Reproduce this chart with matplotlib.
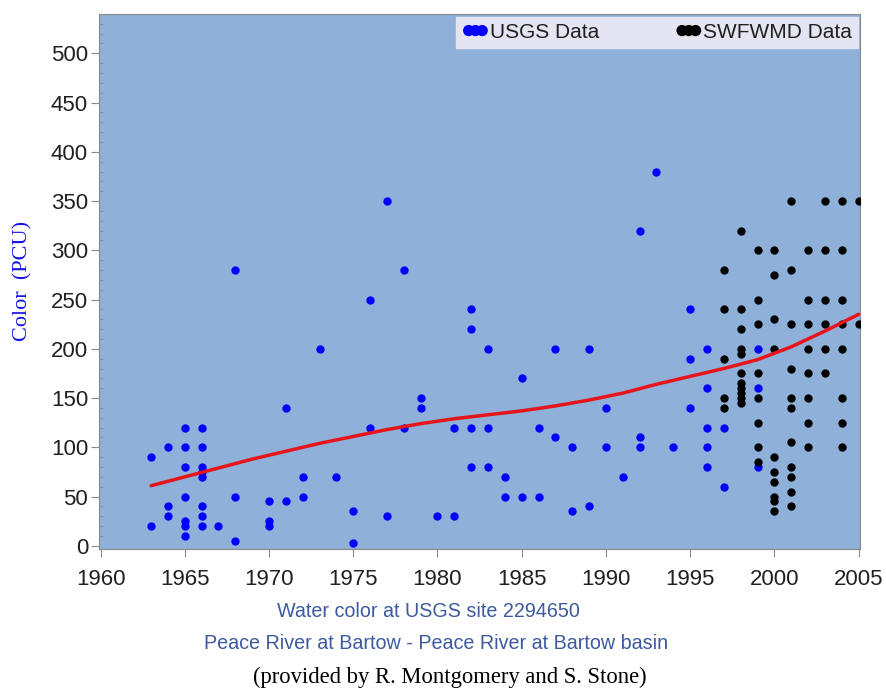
import numpy as np
import matplotlib
matplotlib.use("Agg")
import matplotlib.pyplot as plt
from matplotlib.ticker import MultipleLocator

# USGS samples (year, color in PCU)
usgs_year = [1963, 1963,
             1964, 1964, 1964,
             1965, 1965, 1965, 1965, 1965, 1965, 1965,
             1966, 1966, 1966, 1966, 1966, 1966, 1966, 1966,
             1967,
             1968, 1968, 1968,
             1970, 1970, 1970,
             1971, 1971,
             1972, 1972,
             1973, 1974,
             1975, 1975,
             1976, 1976,
             1977, 1977,
             1978, 1978,
             1979, 1979,
             1980,
             1981, 1981,
             1982, 1982, 1982, 1982,
             1983, 1983, 1983,
             1984, 1984,
             1985, 1985,
             1986, 1986,
             1987, 1987,
             1988, 1988,
             1989, 1989,
             1990, 1990,
             1991,
             1992, 1992, 1992,
             1993, 1994,
             1995, 1995, 1995,
             1996, 1996, 1996, 1996, 1996,
             1997, 1997,
             1999, 1999, 1999]
usgs_color = [90, 20,
              100, 40, 30,
              120, 100, 80, 50, 25, 20, 10,
              120, 100, 80, 75, 70, 40, 30, 20,
              20,
              280, 50, 5,
              45, 25, 20,
              140, 45,
              70, 50,
              200, 70,
              35, 3,
              250, 120,
              350, 30,
              280, 120,
              150, 140,
              30,
              120, 30,
              240, 220, 120, 80,
              200, 120, 80,
              70, 50,
              170, 50,
              120, 50,
              200, 110,
              100, 35,
              200, 40,
              140, 100,
              70,
              320, 110, 100,
              380, 100,
              240, 190, 140,
              200, 160, 120, 100, 80,
              120, 60,
              200, 160, 80]

# SWFWMD samples
swf_year = [1997] * 5 + [1998] * 11 + [1999] * 8 + [2000] * 10 + [2001] * 11 \
    + [2002] * 8 + [2003] * 6 + [2004] * 8 + [2005] * 2
swf_color = [280, 240, 190, 150, 140,
             320, 240, 220, 200, 195, 175, 165, 160, 155, 150, 145,
             300, 250, 225, 175, 150, 125, 100, 85,
             300, 275, 230, 200, 90, 75, 65, 50, 45, 35,
             350, 280, 225, 180, 150, 140, 105, 80, 70, 55, 40,
             300, 250, 225, 200, 175, 150, 125, 100,
             350, 300, 250, 225, 200, 175,
             350, 300, 250, 225, 200, 150, 125, 100,
             350, 225]

# smoothed trend
trend_year = [1963, 1965, 1967, 1969, 1971, 1973, 1975, 1977, 1979, 1981,
              1983, 1985, 1987, 1989, 1991, 1993, 1995, 1997, 1999, 2001,
              2003, 2005]
trend_color = [61, 70, 79, 88, 96, 104, 111, 118, 124, 129,
               133, 137, 142, 148, 155, 164, 172, 180, 189, 202,
               218, 235]

fig = plt.figure(figsize=(8.86, 6.96), dpi=100)
ax = fig.add_axes([0.112, 0.211, 0.859, 0.769])
ax.set_facecolor('#8fb0d8')

ax.scatter(usgs_year, usgs_color, s=36, color='#0000ff', linewidths=0,
           zorder=3, label='USGS Data')
ax.scatter(swf_year, swf_color, s=36, color='black', linewidths=0,
           zorder=4, label='SWFWMD Data')
ax.plot(trend_year, trend_color, color='#e8141c', lw=2.5, zorder=5,
        solid_capstyle='round')

ax.set_xlim(1959.92, 2005.1)
ax.set_ylim(-3.4, 540)
ax.set_xticks(np.arange(1960, 2006, 5))
ax.set_yticks(np.arange(0, 501, 50))
ax.yaxis.set_minor_locator(MultipleLocator(10))

for sp in ax.spines.values():
    sp.set_color('#8a8a8a')
ax.tick_params(axis='both', which='major', direction='out', length=6,
               color='#8a8a8a', labelsize=16, labelcolor='#202020', pad=2)
ax.tick_params(axis='x', which='major', pad=8.5)
ax.tick_params(axis='y', which='minor', direction='in', length=3,
               color='#7a8aa0')
for lab in ax.get_xticklabels() + ax.get_yticklabels():
    lab.set_fontfamily('Liberation Sans')

fig.text(0.026, 0.596, 'Color  (PCU)', rotation=90, ha='center', va='center',
         family='Liberation Serif', fontsize=16, color='#1414e6')

leg = ax.legend(loc='upper left', bbox_to_anchor=(0.469, 0.9, 0.528, 0.095),
                mode='expand', ncol=2, scatterpoints=3, scatteryoffsets=[0.5],
                markerscale=1.35, frameon=True, fancybox=False,
                borderaxespad=0, borderpad=0.3, handletextpad=0.05,
                handlelength=1.25, columnspacing=1.0,
                prop={'family': 'Liberation Sans', 'size': 15})
leg.get_frame().set_facecolor('#e4e4f2')
leg.get_frame().set_edgecolor('#e4e4f2')
leg.get_frame().set_alpha(1)
for t in leg.get_texts():
    t.set_color('#202020')

fig.text(0.483, 0.121, 'Water color at USGS site 2294650', ha='center',
         va='center', family='Liberation Sans', fontsize=14.2, color='#3d5a9e')
fig.text(0.492, 0.076, 'Peace River at Bartow - Peace River at Bartow basin',
         ha='center', va='center', family='Liberation Sans', fontsize=14.2,
         color='#3d5a9e')
fig.text(0.508, 0.027, '(provided by R. Montgomery and S. Stone)', ha='center',
         va='center', family='Liberation Serif', fontsize=16.3, color='black')

fig.savefig('out.png', dpi=100)
